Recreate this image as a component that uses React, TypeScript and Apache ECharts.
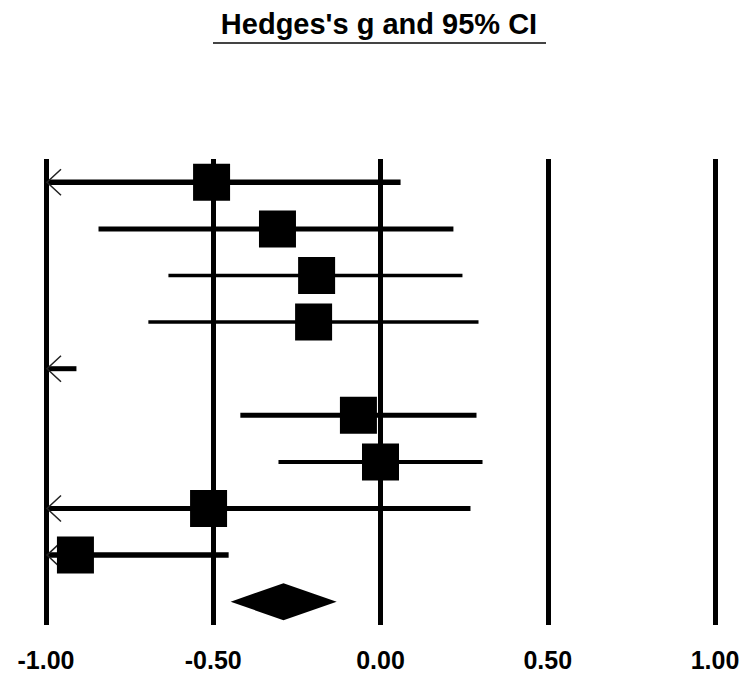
import React, { useEffect, useRef } from "react";
import * as echarts from "echarts";

// ---- data ----
const titleText = "Hedges's g and 95% CI";
const xTicks = [-1, -0.5, 0, 0.5, 1];
const studyRows = [1, 2, 3, 4, 5, 6, 7, 8, 9];
const effectSizes = [-0.505, -0.308, -0.191, -0.2, -1.25, -0.066, 0.0, -0.514, -0.912];
const lowerLimits = [-1.15, -0.843, -0.634, -0.694, -1.9, -0.419, -0.305, -1.08, -1.35];
const upperLimits = [0.06, 0.218, 0.245, 0.293, -0.909, 0.287, 0.305, 0.269, -0.454];
const summaryRow = 10;
const summaryEffect = -0.29;
const summaryLower = -0.448;
const summaryUpper = -0.131;

// ---- styles ----
const FONT = '"Liberation Sans", Arial, Helvetica, sans-serif';
const ciLineWidths = [5.5, 5, 3.5, 3.5, 5, 5, 4, 5, 5.5];
const SQUARE = 37;
const DIAMOND_HALF_H = 18.5;

export default function App() {
  const ref = useRef<HTMLDivElement>(null);

  useEffect(() => {
    const chart = echarts.init(ref.current as HTMLDivElement, null, { renderer: "svg" });
    const xMin = xTicks[0];
    const xMax = xTicks[xTicks.length - 1];
    const studyData = studyRows.map((r, i) => [r, effectSizes[i], lowerLimits[i], upperLimits[i], i]);
    const summaryData = [[summaryRow, summaryEffect, summaryLower, summaryUpper]];

    chart.setOption({
      animation: false,
      backgroundColor: "#fff",
      grid: { left: 46, right: 29, top: 159, bottom: 49 },
      xAxis: {
        type: "value",
        min: xMin,
        max: xMax,
        interval: 0.5,
        axisLine: { show: false },
        axisTick: { show: false },
        splitLine: { show: true, lineStyle: { color: "#000", width: 5 } },
        axisLabel: {
          formatter: (v: number) => v.toFixed(2),
          color: "#000",
          fontWeight: "bold",
          fontSize: 25,
          fontFamily: FONT,
          margin: 22,
        },
      },
      yAxis: { type: "value", min: 0.5, max: 10.5, inverse: true, show: false },
      series: [
        {
          type: "custom",
          data: studyData,
          encode: { x: [1, 2, 3], y: 0 },
          renderItem: (params: any, api: any) => {
            const row = api.value(0);
            const est = api.value(1);
            const lo = api.value(2);
            const hi = api.value(3);
            const idx = api.value(4);
            const pLo = api.coord([Math.max(lo, xMin), row]);
            const pHi = api.coord([Math.min(hi, xMax), row]);
            const children: any[] = [];
            children.push({
              type: "line",
              shape: { x1: pLo[0], y1: pLo[1], x2: pHi[0], y2: pHi[1] },
              style: { stroke: "#000", lineWidth: ciLineWidths[idx] },
            });
            if (lo < xMin) {
              children.push({
                type: "polyline",
                shape: {
                  points: [
                    [pLo[0] + 15, pLo[1] - 13],
                    [pLo[0] + 1, pLo[1]],
                    [pLo[0] + 15, pLo[1] + 13],
                  ],
                },
                style: { stroke: "#222", lineWidth: 1.5, fill: null },
              });
            }
            if (est >= xMin && est <= xMax) {
              const c = api.coord([est, row]);
              children.push({
                type: "rect",
                shape: { x: c[0] - SQUARE / 2, y: c[1] - SQUARE / 2, width: SQUARE, height: SQUARE },
                style: { fill: "#000" },
              });
            }
            return { type: "group", children };
          },
        },
        {
          type: "custom",
          data: summaryData,
          encode: { x: [1, 2, 3], y: 0 },
          renderItem: (params: any, api: any) => {
            const row = api.value(0);
            const pE = api.coord([api.value(1), row]);
            const pL = api.coord([api.value(2), row]);
            const pU = api.coord([api.value(3), row]);
            return {
              type: "polygon",
              shape: {
                points: [
                  [pL[0], pL[1]],
                  [pE[0], pE[1] - DIAMOND_HALF_H],
                  [pU[0], pU[1]],
                  [pE[0], pE[1] + DIAMOND_HALF_H],
                ],
              },
              style: { fill: "#000" },
            };
          },
        },
      ],
      graphic: [
        {
          type: "text",
          x: 379,
          y: 24,
          style: {
            text: titleText,
            align: "center",
            verticalAlign: "middle",
            font: `bold 29px ${FONT}`,
            fill: "#000",
          },
        },
        {
          type: "line",
          shape: { x1: 213, y1: 43, x2: 546, y2: 43 },
          style: { stroke: "#444", lineWidth: 2 },
        },
      ],
    });
    return () => chart.dispose();
  }, []);

  return (
    <div
      ref={ref}
      style={{ position: "fixed", left: 0, top: 0, width: 744, height: 674, background: "#fff" }}
    />
  );
}
